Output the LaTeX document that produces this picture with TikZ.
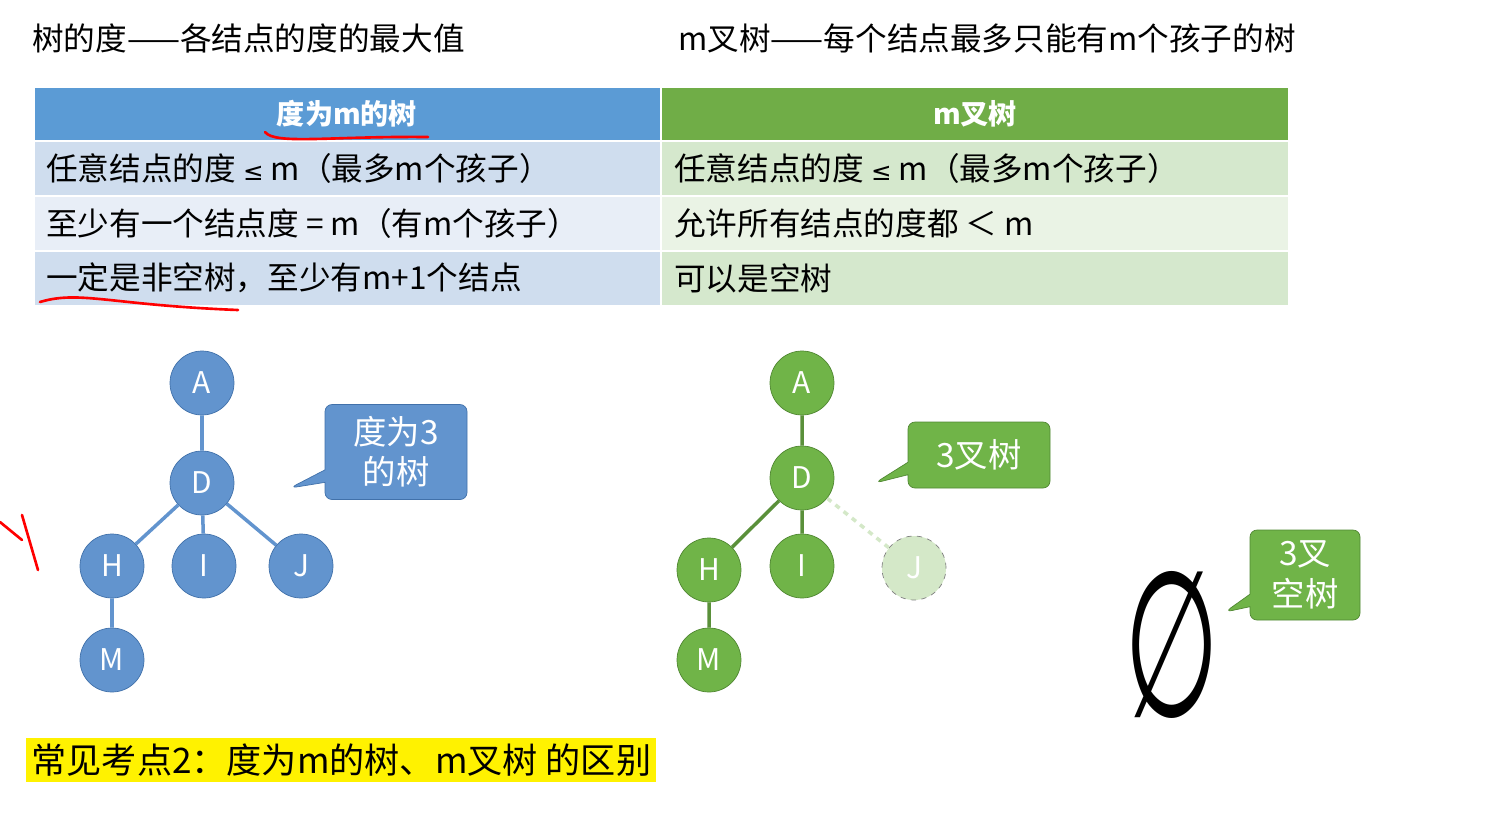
\documentclass[tikz,border=0pt]{standalone}
\usepackage{fontspec}
\setmainfont{Noto Sans CJK SC}
\newfontfamily\symfont{DejaVu Sans}
\usetikzlibrary{shapes.callouts}
\definecolor{hblue}{RGB}{91,155,213}
\definecolor{hgreen}{RGB}{112,173,71}
\definecolor{rblue}{RGB}{207,221,238}
\definecolor{rbluel}{RGB}{232,238,247}
\definecolor{rgreen}{RGB}{213,232,205}
\definecolor{rgreenl}{RGB}{234,243,229}
\definecolor{nblue}{RGB}{98,148,206}
\definecolor{nblueb}{RGB}{65,113,170}
\definecolor{ngreen}{RGB}{112,180,72}
\definecolor{ngreenb}{RGB}{80,135,50}
\tikzset{
  bnode/.style={circle, minimum size=64\px, inner sep=0pt, fill=nblue, draw=nblueb, text=white, font=\fontsize{17}{17}\selectfont},
  gnode/.style={bnode, fill=ngreen, draw=ngreenb},
  bedge/.style={nblue, line width=2pt},
  gedge/.style={ngreen!80!black, line width=2pt},
  cell/.style={anchor=west, font=\fontsize{18}{18}\selectfont},
  hcell/.style={text=white, font=\bfseries\fontsize{16}{16}\selectfont},
  talk/.style={rectangle callout, rounded corners=4pt, text=white, align=center, font=\fontsize{19}{23}\selectfont, inner sep=0pt},
}
\newlength{\px}\setlength{\px}{0.02cm}
\begin{document}
\begin{tikzpicture}[x=0.02cm, y=-0.02cm]
\useasboundingbox (0,0) rectangle (1508,812);
% titles
\node[anchor=west, font=\fontsize{18}{18}\selectfont] (t1) at (26,38) {树的度——各结点的度的最大值};
\node[anchor=west, font=\fontsize{18}{18}\selectfont] (t2) at (672,38) {m叉树——每个结点最多只能有m个孩子的树};

% table
\fill[hblue] (35,88) rectangle (660,140);
\fill[hgreen] (662,88) rectangle (1288,140);
\fill[rblue] (35,142) rectangle (660,195);
\fill[rbluel] (35,197) rectangle (660,250);
\fill[rblue] (35,252) rectangle (660,305);
\fill[rgreen] (662,142) rectangle (1288,195);
\fill[rgreenl] (662,197) rectangle (1288,250);
\fill[rgreen] (662,252) rectangle (1288,305);
\node[hcell] (h1) at (347,114) {度为m的树};
\node[hcell] (h2) at (975,114) {m叉树};
\node[cell] (a1) at (40,168) {任意结点的度 {\symfont\fontsize{14}{14}\selectfont ≤} m（最多m个孩子）};
\node[cell] (a2) at (40,223) {至少有一个结点度 = m（有m个孩子）};
\node[cell] (a3) at (40,278) {一定是非空树，至少有m+1个结点};
\node[cell] (b1) at (668,168) {任意结点的度 {\symfont\fontsize{14}{14}\selectfont ≤} m（最多m个孩子）};
\node[cell] (b2) at (668,223) {允许所有结点的度都 ＜ m};
\node[cell] (b3) at (668,278) {可以是空树};
% red marks
\draw[red, line width=1.5pt, line cap=round] (265,132) .. controls (275,145) and (330,136) .. (428,137);
\draw[red, line width=1.5pt, line cap=round] (40,302) .. controls (80,290) and (110,305) .. (238,310);
\draw[red, line width=1.5pt, line cap=round] (0,522) -- (22,540) (22,515) -- (38,570);

% left tree
\node[bnode] (A) at (202,383) {A};
\node[bnode] (D) at (202,483) {D};
\node[bnode] (H) at (112,566) {H};
\node[bnode] (I) at (204,566) {I};
\node[bnode] (J) at (301,566) {J};
\node[bnode] (M) at (112,660) {M};
\draw[bedge] (A) -- (D) (D) -- (H) (D) -- (I) (D) -- (J) (H) -- (M);
\node[talk, fill=nblue, draw=nblueb, minimum width=142\px, minimum height=95\px, callout absolute pointer={(290,488)}] (c1) at (396,452) {度为3\\的树};

% right tree
\node[gnode] (A2) at (802,383) {A};
\node[gnode] (D2) at (802,478) {D};
\node[gnode] (H2) at (709,570) {H};
\node[gnode] (I2) at (802,566) {I};
\node[gnode, fill=ngreen!30, draw=gray, dashed] (J2) at (914,568) {J};
\node[gnode] (M2) at (709,660) {M};
\draw[gedge] (A2) -- (D2) (D2) -- (H2) (D2) -- (I2) (H2) -- (M2);
\draw[gedge, draw=ngreen!30, dashed] (D2) -- (J2);
\node[talk, fill=ngreen, draw=ngreenb, minimum width=142\px, minimum height=66\px, callout absolute pointer={(875,483)}] (c2) at (979,455) {3叉树};

% empty tree
\node[inner sep=0pt] (E) at (1172,645) {\resizebox{1.9cm}{2.9cm}{\symfont ∅}};
\node[talk, fill=ngreen, draw=ngreenb, minimum width=110\px, minimum height=90\px, callout absolute pointer={(1225,612)}] (c3) at (1305,575) {3叉\\空树};

% bottom
\node[anchor=west, fill=yellow, inner sep=3pt, font=\fontsize{20}{20}\selectfont] (k) at (26,760) {常见考点2：度为m的树、m叉树 的区别};
\end{tikzpicture}
\end{document}
